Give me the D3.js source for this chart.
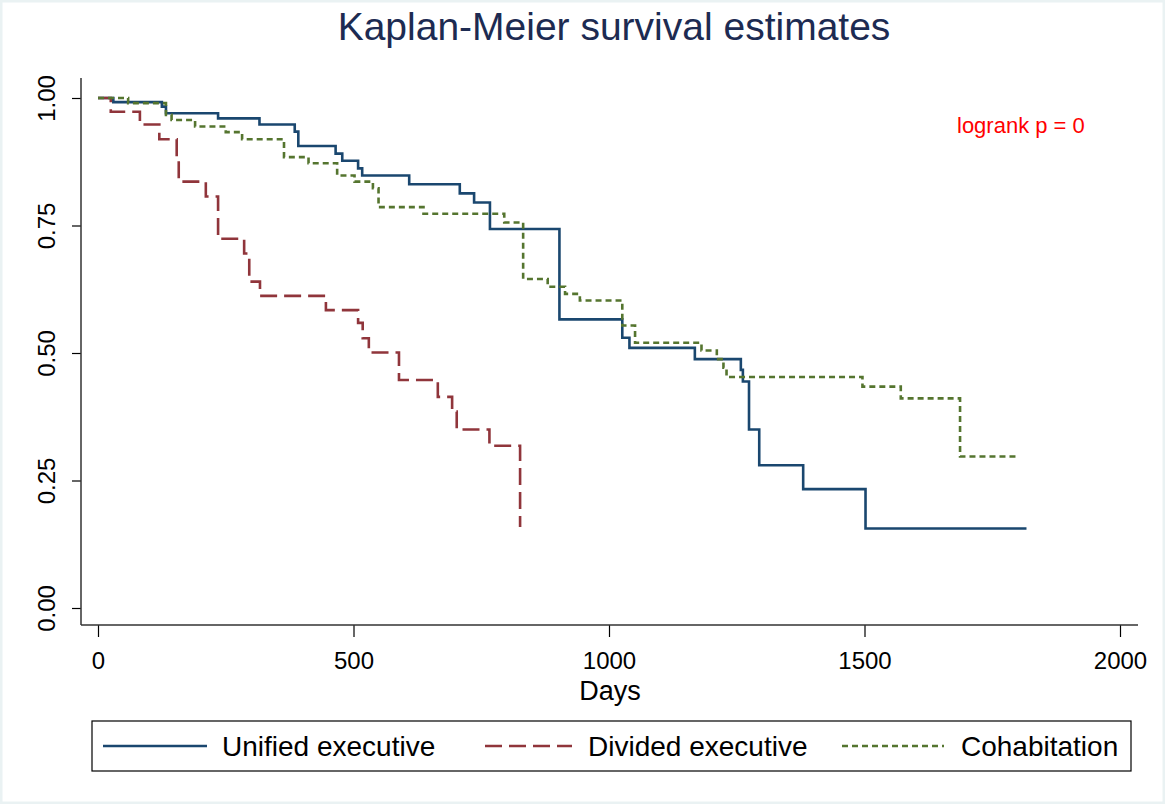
<!DOCTYPE html>
<html>
<head>
<meta charset="utf-8">
<script src="https://cdn.jsdelivr.net/npm/d3@7"></script>
<style>
  html, body { margin: 0; padding: 0; background: #ffffff; }
  svg text { font-family: "Liberation Sans", Arial, Helvetica, sans-serif; }
</style>
</head>
<body>
<svg id="chart" width="1165" height="804"></svg>
<script>
// Kaplan-Meier step curves: [days, survival] at each change point
const unifiedSteps = [
  [0, 1.000], [30, 0.992], [125, 0.983], [133, 0.970], [235, 0.960], [316, 0.948],
  [385, 0.934], [392, 0.906], [465, 0.891], [478, 0.877], [509, 0.862], [517, 0.848],
  [609, 0.831], [708, 0.813], [736, 0.795], [767, 0.743], [903, 0.566], [1026, 0.530],
  [1040, 0.510], [1168, 0.488], [1258, 0.467], [1262, 0.444], [1274, 0.350],
  [1294, 0.280], [1380, 0.233], [1502, 0.156], [1817, 0.156]
];
const dividedSteps = [
  [0, 1.000], [25, 0.973], [82, 0.948], [120, 0.919], [154, 0.877], [158, 0.836],
  [211, 0.807], [235, 0.724], [286, 0.695], [296, 0.640], [317, 0.612], [446, 0.584],
  [509, 0.559], [518, 0.529], [530, 0.501], [589, 0.447], [665, 0.414], [693, 0.385],
  [702, 0.350], [766, 0.318], [826, 0.159]
];
const cohabitationSteps = [
  [0, 1.000], [59, 0.990], [133, 0.967], [144, 0.957], [190, 0.944], [250, 0.933],
  [282, 0.919], [364, 0.884], [412, 0.872], [468, 0.848], [502, 0.836], [538, 0.823],
  [549, 0.786], [637, 0.773], [795, 0.756], [832, 0.645], [880, 0.630], [914, 0.616],
  [943, 0.603], [1026, 0.554], [1051, 0.520], [1181, 0.505], [1211, 0.488],
  [1224, 0.471], [1230, 0.453], [1496, 0.434], [1571, 0.411], [1687, 0.297],
  [1796, 0.297]
];

const groupNames = ["Unified executive", "Divided executive", "Cohabitation"];
const xTicks = [0, 500, 1000, 1500, 2000];
const yTicks = [0, 0.25, 0.5, 0.75, 1];
const titleText = "Kaplan-Meier survival estimates";
const xTitle = "Days";
const annotation = "logrank p = 0";

const series = [
  { name: groupNames[0], steps: unifiedSteps, color: "#1a476f", dash: null },
  { name: groupNames[1], steps: dividedSteps, color: "#90353b", dash: "17,7" },
  { name: groupNames[2], steps: cohabitationSteps, color: "#55752f", dash: "6,4" }
];

const svg = d3.select("#chart");

// outer frame
svg.append("rect")
  .attr("x", 1).attr("y", 1).attr("width", 1163).attr("height", 802)
  .attr("fill", "#ffffff").attr("stroke", "#eaf2f3").attr("stroke-width", 3);

// plot region bounds and scales
const plot = { left: 81, right: 1138, top: 78, bottom: 625 };
const x = d3.scaleLinear().domain([0, 2000]).range([98, 1120]);
const y = d3.scaleLinear().domain([0, 1]).range([608, 98]);

// title
svg.append("text")
  .attr("x", 614).attr("y", 40)
  .attr("text-anchor", "middle")
  .attr("font-size", 39)
  .attr("fill", "#1d2b52")
  .text(titleText);

// y axis
const yAxis = svg.append("g")
  .attr("transform", `translate(${plot.left},0)`)
  .call(d3.axisLeft(y).tickValues(yTicks).tickFormat(d3.format(".2f")).tickSize(9).tickPadding(0));
yAxis.select(".domain").remove();
yAxis.selectAll(".tick line").attr("stroke", "#000").attr("stroke-width", 1.2);
yAxis.selectAll(".tick text")
  .attr("font-size", 24)
  .attr("fill", "#000")
  .attr("text-anchor", "middle")
  .attr("x", null).attr("dy", null)
  .attr("transform", "translate(-26,0) rotate(-90)");

// x axis
const xAxis = svg.append("g")
  .attr("transform", `translate(0,${plot.bottom})`)
  .call(d3.axisBottom(x).tickValues(xTicks).tickFormat(d3.format("d")).tickSize(12).tickPadding(0));
xAxis.select(".domain").remove();
xAxis.selectAll(".tick line").attr("stroke", "#000").attr("stroke-width", 1.2);
xAxis.selectAll(".tick text")
  .attr("font-size", 24)
  .attr("fill", "#000")
  .attr("dy", null)
  .attr("y", 44);

// axis lines
svg.append("line")
  .attr("x1", plot.left).attr("x2", plot.left)
  .attr("y1", plot.top).attr("y2", plot.bottom)
  .attr("stroke", "#333").attr("stroke-width", 1.5);
svg.append("line")
  .attr("x1", plot.left).attr("x2", plot.right)
  .attr("y1", plot.bottom).attr("y2", plot.bottom)
  .attr("stroke", "#333").attr("stroke-width", 1.5);

// x axis title
svg.append("text")
  .attr("x", 610).attr("y", 700)
  .attr("text-anchor", "middle")
  .attr("font-size", 27)
  .attr("fill", "#000")
  .text(xTitle);

// survival curves
const line = d3.line()
  .x(d => x(d[0]))
  .y(d => y(d[1]))
  .curve(d3.curveStepAfter);

svg.append("g").selectAll("path")
  .data(series)
  .join("path")
  .attr("d", d => line(d.steps))
  .attr("fill", "none")
  .attr("stroke", d => d.color)
  .attr("stroke-width", 2.6)
  .attr("stroke-dasharray", d => d.dash);

// log-rank annotation
svg.append("text")
  .attr("x", 957).attr("y", 133)
  .attr("font-size", 22)
  .attr("fill", "#ff0000")
  .text(annotation);

// legend
const legend = svg.append("g");
legend.append("rect")
  .attr("x", 92).attr("y", 721).attr("width", 1039).attr("height", 50)
  .attr("fill", "#fff").attr("stroke", "#000").attr("stroke-width", 1.2);

const legendKeys = [
  { x1: 103, x2: 207, tx: 222 },
  { x1: 485, x2: 572, tx: 588 },
  { x1: 842, x2: 944, tx: 961 }
];
series.forEach((s, i) => {
  const k = legendKeys[i];
  legend.append("line")
    .attr("x1", k.x1).attr("x2", k.x2)
    .attr("y1", 746).attr("y2", 746)
    .attr("stroke", s.color)
    .attr("stroke-width", 2.6)
    .attr("stroke-dasharray", s.dash);
  legend.append("text")
    .attr("x", k.tx).attr("y", 756)
    .attr("font-size", 28)
    .attr("fill", "#000")
    .text(s.name);
});
</script>
</body>
</html>
